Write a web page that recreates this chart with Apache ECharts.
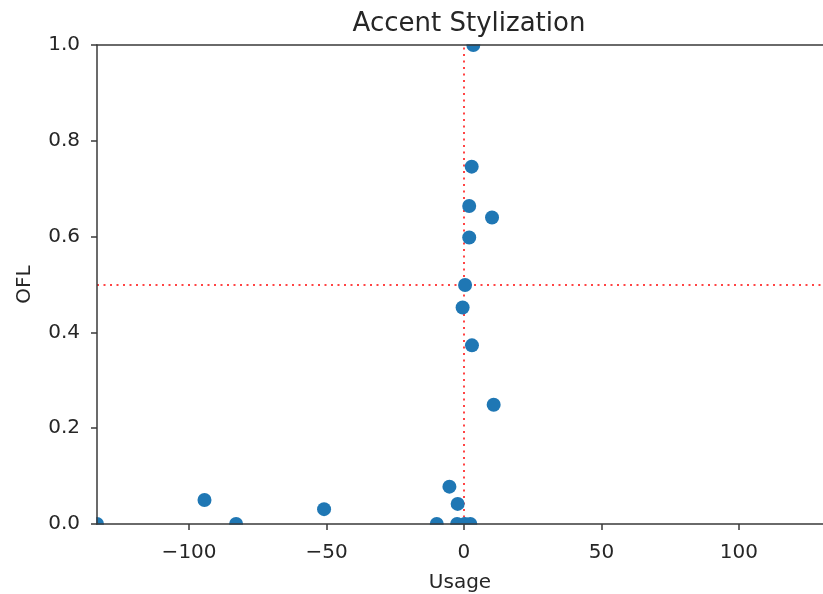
<!DOCTYPE html>
<html>
<head>
<meta charset="utf-8">
<script src="https://cdn.jsdelivr.net/npm/echarts@6/dist/echarts.min.js"></script>
<style>
html,body{margin:0;padding:0;background:#fff;}
#chart{width:823px;height:594px;}
</style>
</head>
<body>
<div id="chart"></div>
<script>
var usage = [3.4, 2.8, 1.9, 10.2, 1.9, 0.4, -0.5, 2.9, 10.8, -5.3, -2.3, -133.5, -94.4, -82.9, -50.9, -9.9, -2.5, 0.3, 2.3];
var ofl   = [1.0, 0.746, 0.664, 0.640, 0.598, 0.499, 0.452, 0.373, 0.249, 0.078, 0.042, 0.0, 0.050, 0.0, 0.031, 0.0, 0.0, 0.0, 0.0];
var xTicks = [-100, -50, 0, 50, 100];
var xRange = [-133.5, 130.6];
var yRange = [0, 1];
var refX = 0;
var refY = 0.5;

var pts = usage.map(function (u, i) { return [u, ofl[i]]; });
var textColor = '#262626';
var spine = '#3a3a3a';
var font = 'DejaVu Sans';
var G = { left: 97, right: 0, top: 45, bottom: 70 };
var W = 823, H = 594;

var chart = echarts.init(document.getElementById('chart'));
chart.setOption({
  animation: false,
  backgroundColor: '#fff',
  title: {
    text: 'Accent Stylization',
    left: 464,
    textAlign: 'center',
    top: 6,
    z: 20,
    textStyle: { fontFamily: font, fontSize: 26, fontWeight: 'normal', color: textColor }
  },
  grid: { left: G.left, right: G.right, top: G.top, bottom: G.bottom, show: false, containLabel: false, outerBoundsMode: 'none' },
  graphic: [
    { type: 'rect', z: 8, silent: true, shape: { x: 0, y: H - G.bottom + 0.75, width: W, height: 20 }, style: { fill: '#fff' } },
    { type: 'rect', z: 8, silent: true, shape: { x: 0, y: G.top - 20, width: G.left - 0.75, height: H - G.bottom - G.top + 40 }, style: { fill: '#fff' } },
    { type: 'rect', z: 8, silent: true, shape: { x: 0, y: G.top - 14, width: W, height: 13.25 }, style: { fill: '#fff' } }
  ],
  xAxis: [{
    type: 'value', min: xRange[0], max: xRange[1], z: 10,
    name: 'Usage', nameLocation: 'middle', nameGap: 49,
    nameTextStyle: { fontFamily: font, fontSize: 20, color: textColor },
    axisLine: { show: true, onZero: false, lineStyle: { color: spine, width: 1.5 } },
    axisTick: { show: true, length: 6, customValues: xTicks, lineStyle: { color: spine, width: 1.5 } },
    axisLabel: {
      customValues: xTicks, fontFamily: font, fontSize: 20, color: textColor, margin: 19,
      formatter: function (v) { return String(v).replace('-', '\u2212'); }
    },
    splitLine: { show: false }
  }, {
    type: 'value', position: 'top', min: xRange[0], max: xRange[1], z: 10,
    axisLine: { show: true, onZero: false, lineStyle: { color: spine, width: 1.5 } },
    axisTick: { show: false }, axisLabel: { show: false }, splitLine: { show: false }
  }],
  yAxis: {
    type: 'value', min: yRange[0], max: yRange[1], interval: 0.2, z: 10,
    name: 'OFL', nameLocation: 'middle', nameGap: 62,
    nameTextStyle: { fontFamily: font, fontSize: 20, color: textColor },
    axisLine: { show: true, onZero: false, lineStyle: { color: spine, width: 1.5 } },
    axisTick: { show: true, length: 6, lineStyle: { color: spine, width: 1.5 } },
    axisLabel: {
      fontFamily: font, fontSize: 20, color: textColor, margin: 17,
      formatter: function (v) { return v.toFixed(1); }
    },
    splitLine: { show: false }
  },
  series: [{
    type: 'scatter',
    data: pts,
    symbolSize: 14,
    itemStyle: { color: '#1f77b4', opacity: 1 },
    z: 3,
    markLine: {
      silent: true,
      symbol: 'none',
      label: { show: false },
      lineStyle: { color: '#ff3030', type: [2, 4.5], width: 2, opacity: 0.9 },
      data: [{ xAxis: refX }, { yAxis: refY }],
      z: 2
    }
  }]
});
</script>
</body>
</html>
